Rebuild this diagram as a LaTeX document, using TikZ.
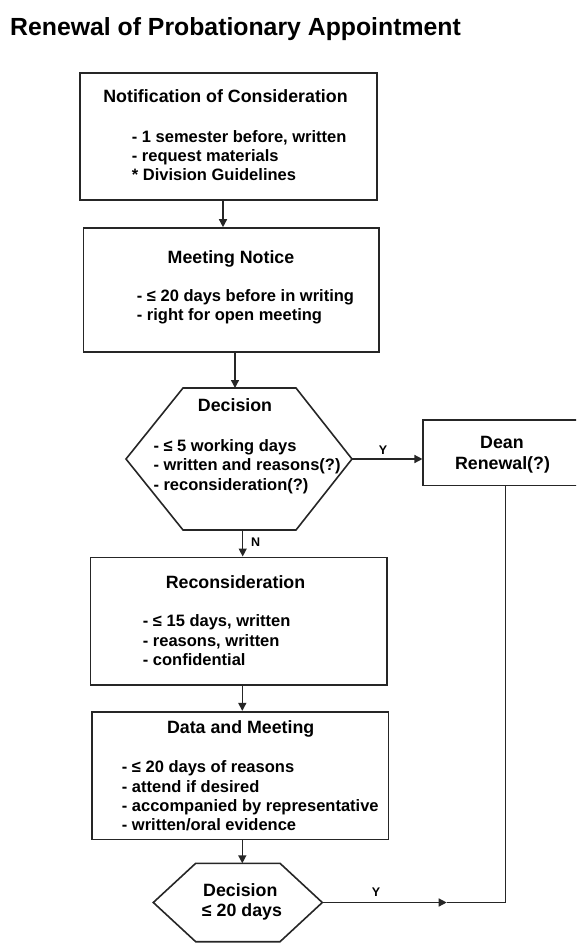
\documentclass[tikz,border=0pt]{standalone}
\usepackage{fontspec}
\setmainfont{Liberation Sans}
\usetikzlibrary{arrows.meta,calc}
\tikzset{
  box/.style={draw=black!85, line width=1.6pt, inner sep=0pt},
  hexa/.style={draw=black!85, line width=1.6pt, line join=miter},
  hd/.style={font=\fontsize{17.8}{20}\selectfont\bfseries, inner sep=0pt, anchor=base},
  itm/.style={font=\fontsize{16.5}{19.3}\selectfont\bfseries, inner sep=0pt, anchor=base west},
  yn/.style={font=\fontsize{12.5}{14}\selectfont\bfseries, inner sep=0pt, anchor=base},
  arr/.style={draw=black!85, line width=1.4pt, -{Triangle[length=8pt,width=8pt]}},
  ln/.style={draw=black!85, line width=1.4pt},
}
\begin{document}
\begin{tikzpicture}[x=1pt,y=-1pt]
\useasboundingbox (0,0) rectangle (576,943);
\clip (0,0) rectangle (576,943);

% title
\node[font=\fontsize{24.8}{28}\selectfont\bfseries, inner sep=0pt, anchor=base west] (title) at (10,35) {Renewal of Probationary Appointment};

% box 1
\node[box, minimum width=297pt, minimum height=127pt] (b1) at (228.5,136.5) {};
\node[hd] (b1h) at (225.5,102.7) {Notification of Consideration};
\node[itm] (b1a) at (131.7,142.3) {- 1 semester before, written};
\node[itm] (b1b) at (131.7,161.6) {- request materials};
\node[itm] (b1c) at (131.7,180.9) {* Division Guidelines};

% box 2
\node[box, minimum width=295.5pt, minimum height=124pt] (b2) at (231.25,290) {};
\node[hd] (b2h) at (231,263) {Meeting Notice};
\node[itm] (b2a) at (136.7,301.7) {- ≤ 20 days before in writing};
\node[itm] (b2b) at (136.7,320.7) {- right for open meeting};

% decision 1 (hexagon)
\coordinate (h1W) at (126,459);
\coordinate (h1NW) at (183,388);
\coordinate (h1NE) at (296,388);
\coordinate (h1E) at (352,459);
\coordinate (h1SE) at (296,530);
\coordinate (h1SW) at (183,530);
\draw[hexa] (h1W) -- (h1NW) -- (h1NE) -- (h1E) -- (h1SE) -- (h1SW) -- cycle;
\coordinate (h1N) at (235,388);
\coordinate (h1S) at (242.7,530);
\node[hd] (h1h) at (235,411.7) {Decision};
\node[itm] (h1a) at (153.3,451) {- ≤ 5 working days};
\node[itm] (h1b) at (153.3,470.5) {- written and reasons(?)};
\node[itm] (h1c) at (153.3,490) {- reconsideration(?)};

% dean
\node[box, minimum width=158.7pt, minimum height=65.3pt] (dean) at (502.6,452.65) {};
\node[hd] (deana) at (502,448.3) {Dean};
\node[hd] (deanb) at (502.5,469.3) {Renewal(?)};

% reconsideration
\node[box, minimum width=296.2pt, minimum height=127.7pt] (b3) at (238.6,621.15) {};
\node[hd] (b3h) at (235.5,588.3) {Reconsideration};
\node[itm] (b3a) at (142.7,626.7) {- ≤ 15 days, written};
\node[itm] (b3b) at (142.7,646) {- reasons, written};
\node[itm] (b3c) at (142.7,665.3) {- confidential};

% data and meeting
\node[box, minimum width=296.6pt, minimum height=127.6pt] (b4) at (240,775.5) {};
\node[hd] (b4h) at (240.7,733.3) {Data and Meeting};
\node[itm] (b4a) at (121.7,772.7) {- ≤ 20 days of reasons};
\node[itm] (b4b) at (121.7,792) {- attend if desired};
\node[itm] (b4c) at (121.7,811.3) {- accompanied by representative};
\node[itm] (b4d) at (121.7,830.6) {- written/oral evidence};

% decision 2 (hexagon)
\coordinate (h2W) at (153.3,902.5);
\coordinate (h2NW) at (195.7,863.3);
\coordinate (h2NE) at (280,863.3);
\coordinate (h2E) at (322.3,902.5);
\coordinate (h2SE) at (280,941.7);
\coordinate (h2SW) at (195.7,941.7);
\draw[hexa] (h2W) -- (h2NW) -- (h2NE) -- (h2E) -- (h2SE) -- (h2SW) -- cycle;
\coordinate (h2N) at (242.3,863.3);
\node[hd] (h2h) at (240.3,896.7) {Decision};
\node[hd] (h2a) at (242,916.7) {≤ 20 days};

% connectors
\coordinate (xa1) at (223,0);
\coordinate (xa4) at (242.3,0);
\draw[arr] (b1.south -| xa1) -- (b2.north -| xa1);
\draw[arr] (b2.south -| h1N) -- (h1N);
\draw[arr] (h1S) -- (b3.north -| h1S);
\draw[arr] (b3.south -| xa4) -- (b4.north -| xa4);
\draw[arr] (b4.south -| h2N) -- (h2N);
\draw[arr] (h1E) -- (h1E -| dean.west);
\node[yn] (y1) at (383,454.3) {Y};
\node[yn, anchor=base west] (n1) at (251,546.7) {N};

\coordinate (ymid) at (446.7,902.5);
\coordinate (ycorner) at (505.7,902.5);
\draw[arr] (h2E) -- (ymid);
\draw[ln] (ymid) -- (ycorner) -- (dean.south -| ycorner);
\node[yn] (y2) at (376,896) {Y};
\end{tikzpicture}
\end{document}
